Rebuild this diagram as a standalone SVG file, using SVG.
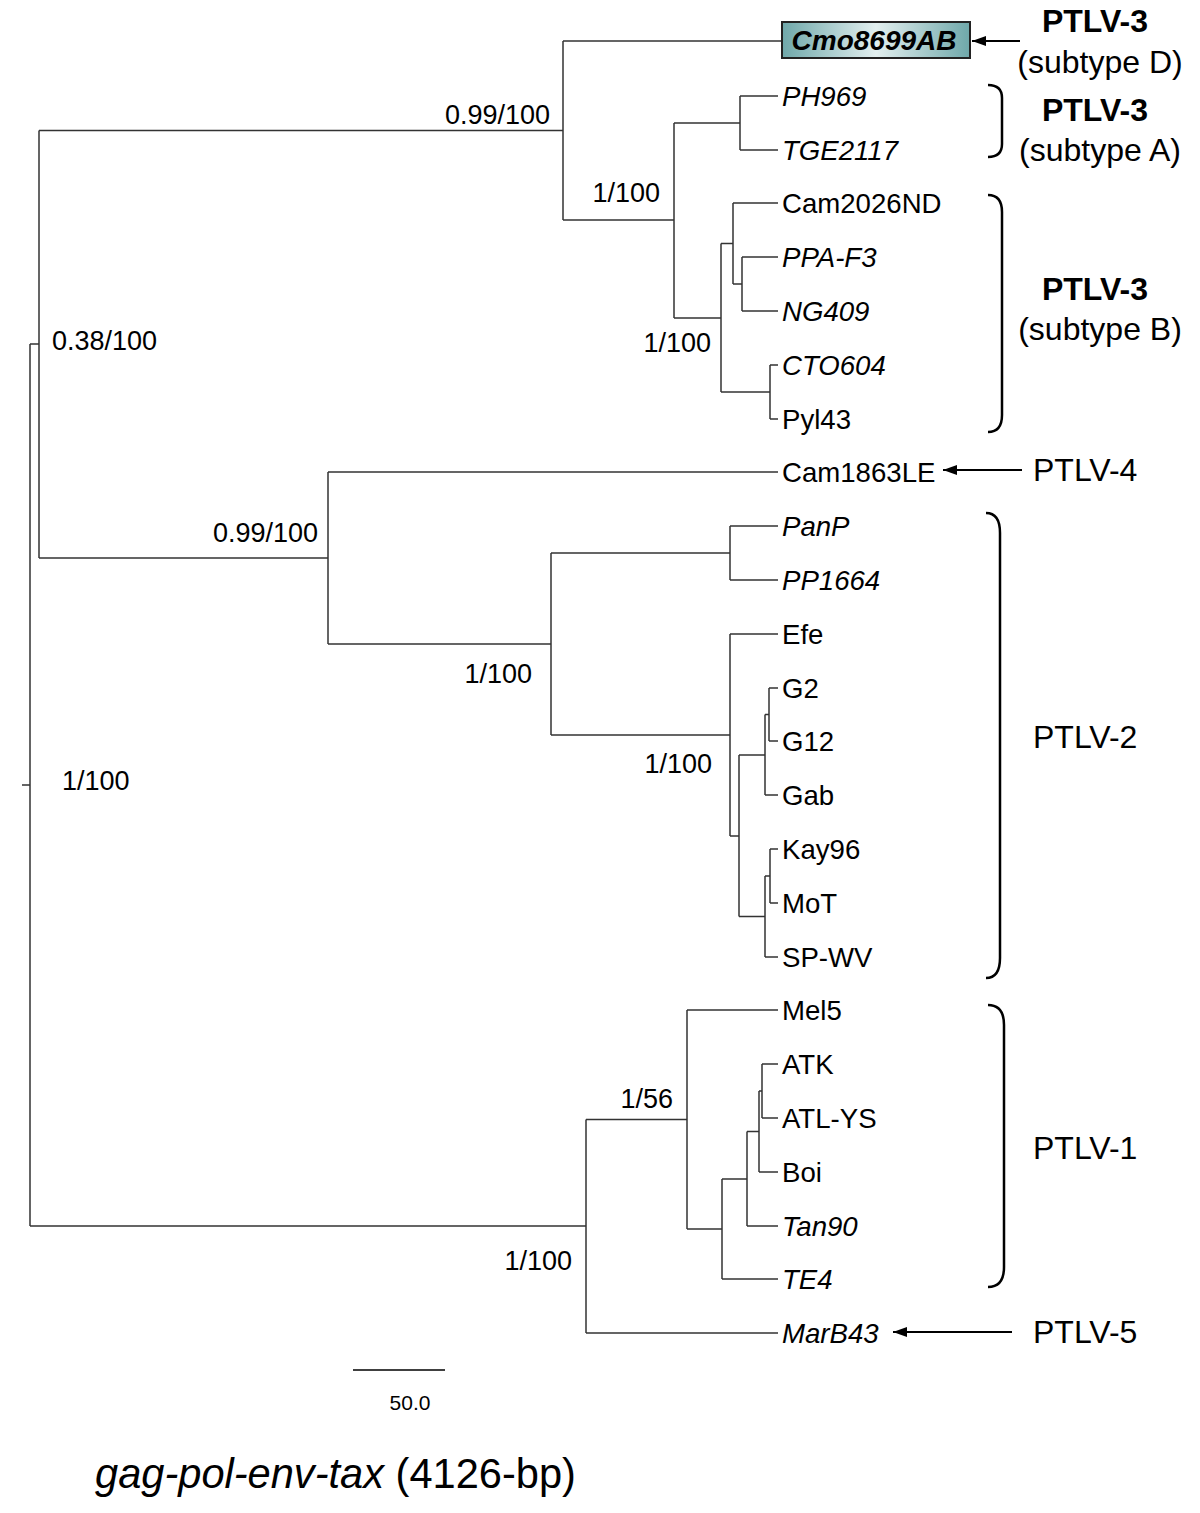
<svg xmlns="http://www.w3.org/2000/svg" width="1200" height="1513" viewBox="0 0 1200 1513">
<style>
text{font-family:"Liberation Sans",Arial,sans-serif;fill:#000}
.lf{font-size:27.6px}
.it{font-style:italic}
.sup{font-size:27px}
.cl{font-size:32px}
.b{font-weight:bold}
.br{fill:none;stroke:#000;stroke-width:2.5}
.ar{fill:none;stroke:#000;stroke-width:2}
#connectors path{fill:none;stroke:#333;stroke-width:1.5}
</style>
<defs>
<linearGradient id="boxg" x1="0" y1="0" x2="1" y2="0">
<stop offset="0" stop-color="#6fa8aa"/>
<stop offset="0.5" stop-color="#e2efef"/>
<stop offset="1" stop-color="#6fa8aa"/>
</linearGradient>
<marker id="ah" viewBox="0 0 14 10" refX="14" refY="5" markerWidth="14" markerHeight="10" markerUnits="userSpaceOnUse" orient="auto">
<path d="M0,0 L14,5 L0,10 z" fill="#000"/>
</marker>
</defs>
<rect width="1200" height="1513" fill="#fff"/>

<g id="connectors">
<path d="M22,785H30 M30,344V1226"/>
<path d="M30,344H39 M39,130.5V558"/>
<path d="M39,130.5H563 M563,41V220 M563,41H782"/>
<path d="M563,220H674 M674,123V318"/>
<path d="M674,123H740 M740,96V150 M740,96H778 M740,150H778"/>
<path d="M674,318H721 M721,243.5V392"/>
<path d="M721,243.5H733 M733,203V284 M733,203H778"/>
<path d="M733,284H742 M742,257V311 M742,257H778 M742,311H778"/>
<path d="M721,392H770 M770,365V419 M770,365H778 M770,419H778"/>
<path d="M39,558H328 M328,472V644 M328,472H778"/>
<path d="M328,644H551 M551,553V735"/>
<path d="M551,553H730 M730,526V580 M730,526H778 M730,580H778"/>
<path d="M551,735H730 M730,634V836 M730,634H778"/>
<path d="M730,836H739 M739,755V916.5"/>
<path d="M739,755H765 M765,714.5V795 M765,795H778"/>
<path d="M765,714.5H769 M769,688V741 M769,688H778 M769,741H778"/>
<path d="M739,916.5H765 M765,876V957 M765,957H778"/>
<path d="M765,876H770 M770,849V903 M770,849H778 M770,903H778"/>
<path d="M30,1226H586 M586,1119.5V1333 M586,1333H778"/>
<path d="M586,1119.5H687 M687,1010V1229 M687,1010H778"/>
<path d="M687,1229H722 M722,1179V1279 M722,1279H778"/>
<path d="M722,1179H747 M747,1131.5V1226 M747,1226H778"/>
<path d="M747,1131.5H759 M759,1091V1172 M759,1172H778"/>
<path d="M759,1091H762 M762,1064V1118 M762,1064H778 M762,1118H778"/>
</g>

<g id="arrows">
<path class="ar" d="M1020,41H972" marker-end="url(#ah)"/>
<path class="ar" d="M1022,470H943" marker-end="url(#ah)"/>
<path class="ar" d="M1012,1332H893" marker-end="url(#ah)"/>
</g>

<g id="support">
<text class="sup" x="52" y="350">0.38/100</text>
<text class="sup" x="550" y="124" text-anchor="end">0.99/100</text>
<text class="sup" x="660" y="202" text-anchor="end">1/100</text>
<text class="sup" x="711" y="352" text-anchor="end">1/100</text>
<text class="sup" x="318" y="542" text-anchor="end">0.99/100</text>
<text class="sup" x="532" y="683" text-anchor="end">1/100</text>
<text class="sup" x="712" y="773" text-anchor="end">1/100</text>
<text class="sup" x="62" y="790">1/100</text>
<text class="sup" x="673" y="1108" text-anchor="end">1/56</text>
<text class="sup" x="572" y="1270" text-anchor="end">1/100</text>
</g>

<g id="node-Cmo8699AB">
<rect x="782" y="22" width="188" height="36" fill="url(#boxg)" stroke="#222" stroke-width="2"/>
<text class="it b" font-size="28" x="874" y="50" text-anchor="middle">Cmo8699AB</text>
</g>
<g id="node-PH969"><text class="lf it" x="782" y="106">PH969</text></g>
<g id="node-TGE2117"><text class="lf it" x="782" y="160">TGE2117</text></g>
<g id="node-Cam2026ND"><text class="lf" x="782" y="213">Cam2026ND</text></g>
<g id="node-PPA-F3"><text class="lf it" x="782" y="267">PPA-F3</text></g>
<g id="node-NG409"><text class="lf it" x="782" y="321">NG409</text></g>
<g id="node-CTO604"><text class="lf it" x="782" y="375">CTO604</text></g>
<g id="node-Pyl43"><text class="lf" x="782" y="429">Pyl43</text></g>
<g id="node-Cam1863LE"><text class="lf" x="782" y="482">Cam1863LE</text></g>
<g id="node-PanP"><text class="lf it" x="782" y="536">PanP</text></g>
<g id="node-PP1664"><text class="lf it" x="782" y="590">PP1664</text></g>
<g id="node-Efe"><text class="lf" x="782" y="644">Efe</text></g>
<g id="node-G2"><text class="lf" x="782" y="698">G2</text></g>
<g id="node-G12"><text class="lf" x="782" y="751">G12</text></g>
<g id="node-Gab"><text class="lf" x="782" y="805">Gab</text></g>
<g id="node-Kay96"><text class="lf" x="782" y="859">Kay96</text></g>
<g id="node-MoT"><text class="lf" x="782" y="913">MoT</text></g>
<g id="node-SP-WV"><text class="lf" x="782" y="967">SP-WV</text></g>
<g id="node-Mel5"><text class="lf" x="782" y="1020">Mel5</text></g>
<g id="node-ATK"><text class="lf" x="782" y="1074">ATK</text></g>
<g id="node-ATL-YS"><text class="lf" x="782" y="1128">ATL-YS</text></g>
<g id="node-Boi"><text class="lf" x="782" y="1182">Boi</text></g>
<g id="node-Tan90"><text class="lf it" x="782" y="1236">Tan90</text></g>
<g id="node-TE4"><text class="lf it" x="782" y="1289">TE4</text></g>
<g id="node-MarB43"><text class="lf it" x="782" y="1343">MarB43</text></g>

<g id="clade-PTLV3-D">
<text class="cl b" x="1095" y="32" text-anchor="middle">PTLV-3</text>
<text class="cl" x="1100" y="73" text-anchor="middle">(subtype D)</text>
</g>
<g id="clade-PTLV3-A">
<path class="br" d="M988,85 Q1002,85 1002,98 V144 Q1002,157 988,157"/>
<text class="cl b" x="1095" y="121" text-anchor="middle">PTLV-3</text>
<text class="cl" x="1100" y="161" text-anchor="middle">(subtype A)</text>
</g>
<g id="clade-PTLV3-B">
<path class="br" d="M988,195 Q1002,195 1002,212 V415 Q1002,432 988,432"/>
<text class="cl b" x="1095" y="300" text-anchor="middle">PTLV-3</text>
<text class="cl" x="1100" y="340" text-anchor="middle">(subtype B)</text>
</g>
<g id="clade-PTLV4">
<text class="cl" x="1033" y="481">PTLV-4</text>
</g>
<g id="clade-PTLV2">
<path class="br" d="M986,513 Q1000,513 1000,533 V958 Q1000,978 986,978"/>
<text class="cl" x="1033" y="748">PTLV-2</text>
</g>
<g id="clade-PTLV1">
<path class="br" d="M988,1005 Q1004,1005 1004,1025 V1267 Q1004,1287 988,1287"/>
<text class="cl" x="1033" y="1159">PTLV-1</text>
</g>
<g id="clade-PTLV5">
<text class="cl" x="1033" y="1343">PTLV-5</text>
</g>

<g id="scale">
<path d="M353,1370H445" stroke="#000" stroke-width="1.5"/>
<text x="410" y="1410" font-size="21" text-anchor="middle">50.0</text>
</g>

<g id="title">
<text x="95" y="1488" font-size="41.6"><tspan font-style="italic">gag-pol-env-tax</tspan> (4126-bp)</text>
</g>
</svg>
